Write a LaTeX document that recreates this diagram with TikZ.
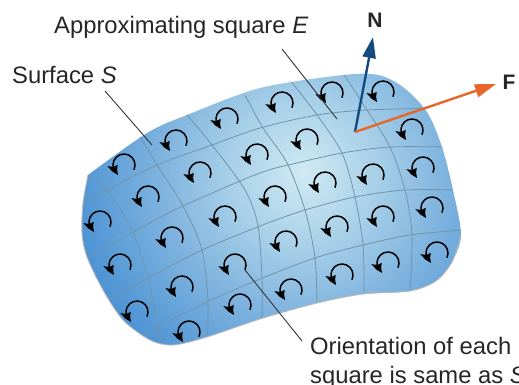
\documentclass[tikz,border=0pt]{standalone}
\usepackage{fontspec}
\setmainfont{Liberation Sans}
\usetikzlibrary{arrows.meta,bending}
\definecolor{gridblue}{RGB}{112,148,172}
\definecolor{normalblue}{RGB}{21,74,128}
\definecolor{fieldorange}{RGB}{232,102,42}
\definecolor{glow0}{RGB}{208,234,243}
\definecolor{glow1}{RGB}{168,208,232}
\definecolor{glow2}{RGB}{125,178,222}
\definecolor{glow3}{RGB}{78,148,212}
\pgfdeclareradialshading{surfaceglow}{\pgfpoint{0bp}{0bp}}{
  color(0bp)=(glow0);color(7bp)=(glow1);color(14bp)=(glow2);color(22bp)=(glow3);color(50bp)=(glow3)}
\newcommand{\surfaceoutline}{(88,175) (147,133) (187,115) (260,88) (343,75) (378,75) (403,87) (427,112) (442,147) (453,190) (461,235) (452,262) (436,281) (410,291) (363,294) (317,303) (260,319) (207,337) (173,345) (150,340) (123,320) (103,290) (87,257) (82,233) (83,203) (88,175)}

\begin{document}
\begin{tikzpicture}[
    x=1pt,y=-1pt,
    lbl/.style={inner sep=0pt,font=\fontsize{23.8}{29}\selectfont,text=black!85},
    vec/.style={inner sep=0pt,font=\fontsize{21}{24}\selectfont\bfseries,text=black!85},
    gridline/.style={gridblue,line width=0.8pt},
    leader/.style={black!80,line width=0.9pt},
    swirl/.style={black,line width=1.5pt,-{Stealth[length=11pt,width=10pt,inset=1.5pt,bend]}},
    vector/.style={line width=2.4pt,-{Triangle[length=21pt,width=13pt]}}
]
\useasboundingbox (0,0) rectangle (519,385);

% surface
\begin{scope}
\clip plot[smooth,tension=0.5] coordinates {\surfaceoutline};
\shade[shading=surfaceglow] (43,-87) rectangle (563,433);
\draw[gridline] plot[smooth,tension=0.5] coordinates {(83,205) (107,190) (157,165) (212,145) (260,128) (317,115) (367,110) (440,108)};
\draw[gridline] plot[smooth,tension=0.5] coordinates {(87,258) (133,232) (183,206) (260,173) (297,163) (342,153) (390,147) (446,147)};
\draw[gridline] plot[smooth,tension=0.5] coordinates {(108,300) (148,278) (200,251) (260,226) (305,210) (355,197) (405,190) (456,190)};
\draw[gridline] plot[smooth,tension=0.5] coordinates {(143,337) (158,327) (207,302) (260,279) (315,258) (363,245) (410,235) (462,230)};
\draw[gridline] plot[smooth,tension=0.5] coordinates {(88,175) (107,190) (132,230) (148,278) (158,327) (161,345)};
\draw[gridline] plot[smooth,tension=0.5] coordinates {(138,133) (157,165) (183,206) (202,250) (208,302) (207,340)};
\draw[gridline] plot[smooth,tension=0.5] coordinates {(187,115) (212,145) (245,190) (258,226) (262,279) (262,322)};
\draw[gridline] plot[smooth,tension=0.5] coordinates {(245,95) (263,128) (287,163) (305,210) (315,258) (317,305)};
\draw[gridline] plot[smooth,tension=0.5] coordinates {(290,80) (317,115) (342,153) (355,197) (363,245) (364,295)};
\draw[gridline] plot[smooth,tension=0.5] coordinates {(343,73) (367,110) (390,147) (405,190) (412,235) (410,292)};
\end{scope}
\draw[gray!55,line width=0.9pt] plot[smooth,tension=0.5] coordinates {(461,235) (452,262) (436,281) (410,291) (363,294) (317,303) (260,319) (207,337) (173,345) (150,340) (123,320) (103,290) (87,257) (82,233) (83,203) (88,175)};

% orientation of the squares
\foreach \cx/\cy in {124/165,176/141,227/119,282/103,332/93,383/92,
    148/197,200/173,257/155,307/140,412/130,
    100/222,172/238,225/217,275/197,325/183,373/175,423/168,
    120/265,182/287,235/265,286/242,337/227,383/217,432/208,
    137/312,189/332,240/305,291/290,342/275,388/263,437/253}
  \draw[swirl] (\cx,\cy) ++(25:11) arc[start angle=25,end angle=-240,radius=11];

% labels
\node[lbl,anchor=base west] (approx) at (54,34) {Approximating square \textit{E}};
\node[lbl,anchor=base west] (surface) at (12,84) {Surface \textit{S}};
\node[lbl,anchor=north west,align=left] (orient) at (310,337) {Orientation of each\\square is same as \textit{S}};
\node[vec,anchor=base] (nlabel) at (375,28) {N};
\node[vec,anchor=base] (flabel) at (509,90) {F};

\coordinate (surfacestart) at (105,91);
\coordinate (surfaceend) at (152,145);
\coordinate (approxstart) at (282,49);
\coordinate (approxend) at (337,119);
\coordinate (orientstart) at (302,341);
\coordinate (orientend) at (245,270);
\coordinate (base) at (355,132);
\coordinate (ntip) at (373,37);
\coordinate (ftip) at (496,84);

\draw[leader] (surfacestart) -- (surfaceend);
\draw[leader] (approxstart) -- (approxend);
\draw[leader] (orientstart) -- (orientend);
\draw[vector,normalblue] (base) -- (ntip);
\draw[vector,fieldorange] (base) -- (ftip);
\end{tikzpicture}
\end{document}
